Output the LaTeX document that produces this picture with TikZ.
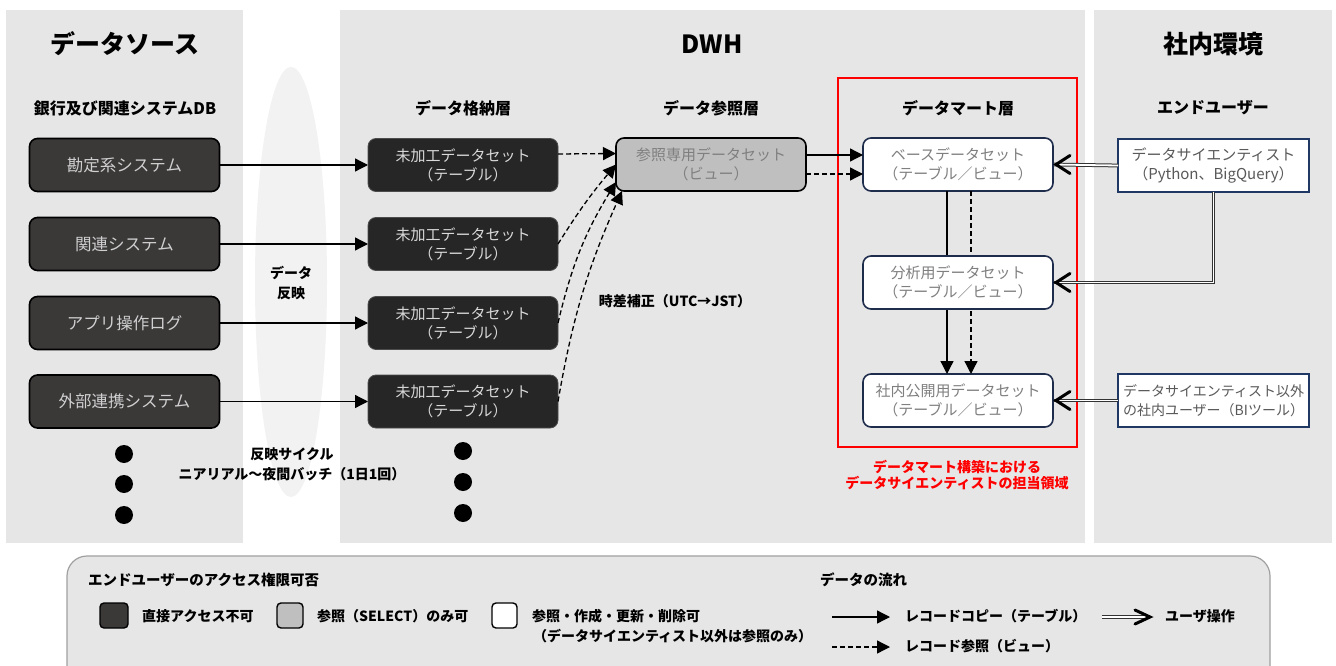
\documentclass[tikz,border=0pt]{standalone}
\usepackage{fontspec}
\setmainfont{Noto Sans CJK JP}
\usetikzlibrary{arrows.meta,calc}
\definecolor{panel}{HTML}{E7E6E6}
\definecolor{ellc}{HTML}{F2F2F2}
\definecolor{srcfill}{HTML}{3B3838}
\definecolor{stfill}{HTML}{262626}
\definecolor{reffill}{HTML}{BFBFBF}
\definecolor{navy}{HTML}{1F2D4D}
\definecolor{navyb}{HTML}{203864}
\definecolor{legbd}{HTML}{A0A0A0}
\definecolor{lt}{HTML}{D0D0D0}
\definecolor{lt2}{HTML}{D9D9D9}
\definecolor{gtext}{HTML}{7F7F7F}
\definecolor{gtext2}{HTML}{595959}
\definecolor{redc}{HTML}{FF0000}
\newcommand\fsz[2]{\fontsize{#1}{#2}\selectfont}
\tikzset{
  basebox/.style={inner sep=0pt, outer sep=0pt, align=center, minimum width=190pt, minimum height=53pt},
  srcbox/.style={basebox, rounded corners=8pt, draw=black, line width=1.6pt, fill=srcfill, text=lt, font=\fsz{16.5}{20}},
  stbox/.style={basebox, rounded corners=8pt, draw=black!70, line width=0.8pt, fill=stfill, text=lt2, font=\fsz{15}{19}},
  refbox/.style={basebox, rounded corners=8pt, draw=black, line width=1.6pt, fill=reffill, text=gtext, font=\fsz{15}{19}},
  martbox/.style={basebox, rounded corners=8pt, draw=navy, line width=1.6pt, fill=white, text=gtext, font=\fsz{15}{19}},
  userbox/.style={basebox, minimum width=191pt, draw=navyb, line width=1.6pt, fill=white, text=gtext2, font=\fsz{15}{19}},
  title/.style={font=\bfseries\fsz{25}{30}},
  subhead/.style={font=\bfseries\fsz{16}{20}},
  lbl/.style={font=\bfseries\fsz{14}{20}, align=center},
  legtxt/.style={font=\bfseries\fsz{14}{20}, anchor=west, inner sep=0pt},
  copyarr/.style={draw=black, line width=1.3pt, -{Triangle[length=13pt,width=13pt]}},
  refarr/.style={copyarr, dash pattern=on 5pt off 3pt},
  userop/.style={draw=black!80, double=white, double distance=1.8pt, line width=1pt, shorten >=1pt},
  chev/.style={draw=black, line width=3pt, line cap=round, line join=miter},
  legsq/.style={rounded corners=4pt, draw=black, line width=1.4pt}
}
\begin{document}
\begin{tikzpicture}[x=1pt,y=-1pt]
\clip (0,0) rectangle (1336,666);
\fill[white] (0,0) rectangle (1336,666);
% panels
\fill[panel] (6,10) rectangle (243,543);
\fill[panel] (340,10) rectangle (1085,543);
\fill[panel] (1094,10) rectangle (1332,543);
\fill[ellc] (291,282) ellipse [x radius=36, y radius=215];
% titles
\node[title] (tsrc) at (125,44) {データソース};
\node[title] (tdwh) at (712,44) {DWH};
\node[title] (tenv) at (1213,44) {社内環境};
\node[subhead] (h1) at (125,108) {銀行及び関連システムDB};
\node[subhead] (h2) at (463,108) {データ格納層};
\node[subhead] (h3) at (711,108) {データ参照層};
\node[subhead] (h4) at (958,108) {データマート層};
\node[subhead] (h5) at (1213,108) {エンドユーザー};
% source boxes
\node[srcbox] (s1) at (124.5,165) {勘定系システム};
\node[srcbox] (s2) at (124.5,244) {関連システム};
\node[srcbox] (s3) at (124.5,323) {アプリ操作ログ};
\node[srcbox] (s4) at (124.5,401.5) {外部連携システム};
% storage boxes
\node[stbox] (st1) at (463,165) {未加工データセット\\（テーブル）};
\node[stbox] (st2) at (463,244) {未加工データセット\\（テーブル）};
\node[stbox] (st3) at (463,323) {未加工データセット\\（テーブル）};
\node[stbox] (st4) at (463,401.5) {未加工データセット\\（テーブル）};
% reference
\node[refbox] (ref) at (711,164.5) {参照専用データセット\\（ビュー）};
% data mart
\node[martbox] (base) at (958,164.5) {ベースデータセット\\（テーブル／ビュー）};
\node[martbox] (pub) at (958,400.5) {社内公開用データセット\\（テーブル／ビュー）};
\draw[copyarr] ($(base.south)+(-11,0)$) -- ($(pub.north)+(-11,0)$);
\draw[refarr] ($(base.south)+(13,0)$) -- ($(pub.north)+(13,0)$);
\node[martbox] (ana) at (958,282.5) {分析用データセット\\（テーブル／ビュー）};
% end users
\node[userbox] (ds) at (1213.5,165.5) {データサイエンティスト\\（Python、BigQuery）};
\node[userbox, align=left, font=\fsz{14}{19}] (bi) at (1213.5,400.5) {データサイエンティスト以外\\の社内ユーザー（BIツール）};
% red area
\draw[redc, line width=1.8pt] (838,78) rectangle (1077,447);
\node[lbl, text=redc, font=\bfseries\fsz{14}{16.5}] (redlbl) at (957,475) {データマート構築における\\データサイエンティストの担当領域};
% labels
\node[lbl] (refl) at (291,283) {データ\\反映};
\node[lbl] (cyc) at (292,464) {反映サイクル\\ニアリアル〜夜間バッチ（1日1回）};
\node[lbl] (tz) at (675,301) {時差補正（UTC→JST）};
% dots
\foreach \yy in {454,484,515} \fill (124,\yy) circle [radius=9];
\foreach \yy in {451,482,513} \fill (463,\yy) circle [radius=9];
% arrows source -> storage
\draw[copyarr] (s1.east) -- (st1.west);
\draw[copyarr] (s2.east) -- (st2.west);
\draw[copyarr] (s3.east) -- (st3.west);
\draw[copyarr] (s4.east) -- (st4.west);
% storage -> ref
\draw[refarr] ($(st1.east)+(0,-11)$) -- ($(ref.west)+(0,-11)$);
\draw[refarr] (st2.east) to[bend left=4] (ref.west);
\draw[refarr] (st3.east) to[bend left=9] ($(ref.south west)+(0,-9)$);
\draw[refarr] (st4.east) to[bend left=7] ($(ref.south west)+(6,0)$);
% ref -> base
\draw[copyarr] ($(ref.east)+(0,-9.5)$) -- ($(base.west)+(0,-9.5)$);
\draw[refarr] ($(ref.east)+(0,9.5)$) -- ($(base.west)+(0,9.5)$);
% user operations
\draw[userop] (ds.west) -- (base.east);
\draw[chev] ($(base.east)+(17,-9)$) -- ($(base.east)+(3,0)$) -- ($(base.east)+(17,9)$);
\draw[userop] (ds.south) |- (ana.east);
\draw[chev] ($(ana.east)+(17,-9)$) -- ($(ana.east)+(3,0)$) -- ($(ana.east)+(17,9)$);
\draw[userop] (bi.west) -- (pub.east);
\draw[chev] ($(pub.east)+(17,-9)$) -- ($(pub.east)+(3,0)$) -- ($(pub.east)+(17,9)$);
% legend
\draw[fill=panel, draw=legbd, line width=1.2pt, rounded corners=20pt] (67,556) rectangle (1270,690);
\node[legtxt, font=\bfseries\fsz{14.5}{20}] (lh1) at (88,580) {エンドユーザーのアクセス権限可否};
\draw[legsq, fill=srcfill] (100,603) rectangle (128,628);
\node[legtxt] (l1) at (142,616) {直接アクセス不可};
\draw[legsq, fill=reffill] (277,603) rectangle (303,628);
\node[legtxt] (l2) at (317,616) {参照（SELECT）のみ可};
\draw[legsq, fill=white] (492,603) rectangle (517,628);
\node[legtxt] (l3) at (532,616) {参照・作成・更新・削除可};
\node[legtxt] (l4) at (533,636) {（データサイエンティスト以外は参照のみ）};
\node[legtxt, font=\bfseries\fsz{14.5}{20}] (lh2) at (820,580) {データの流れ};
\coordinate (a1s) at (832,617); \coordinate (a1e) at (890,617);
\coordinate (a2s) at (832,647); \coordinate (a2e) at (890,647);
\coordinate (a3s) at (1102,617); \coordinate (a3e) at (1150,617);
\draw[copyarr] (a1s) -- (a1e);
\draw[refarr] (a2s) -- (a2e);
\draw[userop] (a3s) -- (a3e);
\draw[chev] ($(a3e)+(-15,-7)$) -- (a3e) -- ($(a3e)+(-15,7)$);
\node[legtxt] (l5) at (905,616) {レコードコピー（テーブル）};
\node[legtxt] (l6) at (905,646) {レコード参照（ビュー）};
\node[legtxt] (l7) at (1165,616) {ユーザ操作};
\end{tikzpicture}
\end{document}
